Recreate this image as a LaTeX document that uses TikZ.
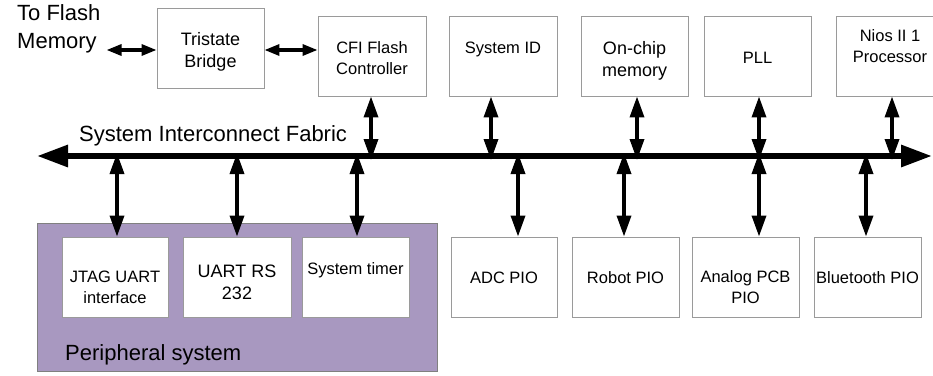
\documentclass[tikz,border=0pt]{standalone}
\usepackage{fontspec}
\setmainfont{Liberation Sans}
\usetikzlibrary{arrows.meta}

\definecolor{boxline}{HTML}{9A9A9A}
\definecolor{perifill}{HTML}{A898C0}
\definecolor{periline}{HTML}{808080}

% a block: [text style], name, x1, y1, x2, y2, text centre y, text
\newcommand\mkblock[8][]{%
  \node[blk, minimum width={#5pt-#3pt}, minimum height={#6pt-#4pt}]
    (#2) at ({(#3+#5)/2},{(#4+#6)/2}) {};
  \node[blktext, #1] (#2-t) at ({(#3+#5)/2},#7) {#8};
}

\begin{document}
\begin{tikzpicture}[x=1pt, y=-1pt,
  blk/.style={draw=boxline, line width=0.9pt, fill=white, inner sep=0pt},
  blktext/.style={inner sep=0pt, align=center,
    font=\fontsize{16.5}{21}\selectfont},
  largetext/.style={font=\fontsize{18}{22}\selectfont},
  bigtext/.style={inner sep=0pt, align=left,
    font=\fontsize{22}{28}\selectfont},
  peri/.style={draw=periline, line width=0.9pt, fill=perifill, inner sep=0pt},
  varrow/.style={line width=3.4pt,
    {Triangle[length=21pt,width=14pt]}-{Triangle[length=21pt,width=14pt]}},
  harrow/.style={line width=3.2pt,
    {Triangle[length=15pt,width=11pt]}-{Triangle[length=15pt,width=11pt]}},
  busarrow/.style={line width=6pt,
    {Triangle[length=31pt,width=21pt]}-{Triangle[length=31pt,width=21pt]}}]

\useasboundingbox (0,0) rectangle (933,375);
\clip (0,0) rectangle (933,375);

% peripheral subsystem frame
\node[peri, minimum width=400pt, minimum height=148pt] (per) at (237,297) {};
\node[bigtext, anchor=west] (per-t) at (65,355) {Peripheral system};

% upper row
\mkblock[largetext]{tri}{157}{8}{264}{88}{52}{Tristate\\Bridge}
\mkblock{cfi}{318}{16}{426}{96}{58}{CFI Flash\\Controller}
\mkblock{sysid}{449}{16}{557}{96}{49}{System ID}
\mkblock[largetext]{ocm}{581}{16}{688}{96}{61}{On-chip\\memory}
\mkblock{pll}{704}{16}{811}{96}{58}{PLL}
\mkblock{nios}{836}{16}{944}{96}{46}{Nios II 1\\Processor}

% lower row
\mkblock{jtag}{62}{237}{168}{317}{287}{JTAG UART\\interface}
\mkblock[largetext]{uart}{183}{237}{291}{317}{282}{UART RS\\232}
\mkblock{timer}{302}{237}{409}{317}{270}{System timer}
\mkblock{adc}{451}{237}{557}{317}{278}{ADC PIO}
\mkblock{robot}{572}{237}{679}{317}{278}{Robot PIO}
\mkblock{analog}{692}{237}{799}{317}{287}{Analog PCB\\PIO}
\mkblock{bt}{814}{237}{921}{317}{278}{Bluetooth PIO}

% external flash label
\node[bigtext, anchor=west] (flash) at (17,29) {To Flash\\Memory};

% system interconnect fabric
\coordinate (busL) at (37,156);
\coordinate (busR) at (932,156);
\coordinate (busA) at (0,160);
\coordinate (busB) at (0,153);
\draw[busarrow] (busL) -- (busR);
\node[bigtext, anchor=west] (fabric) at (79,136) {System Interconnect Fabric};

% flash path
\draw[harrow] ([xshift=6pt,yshift=-2pt]flash.east |- tri.west) -- ([yshift=-2pt]tri.west);
\draw[harrow] ([yshift=-2pt]tri.east) -- ([yshift=-2pt]tri.east -| cfi.west);

% masters and slaves above the fabric
\draw[varrow] ([xshift=-1pt]cfi.south) -- ([xshift=-1pt]cfi.south |- busA);
\draw[varrow] ([xshift=-12pt]sysid.south) -- ([xshift=-12pt]sysid.south |- busA);
\draw[varrow] ([xshift=2.5pt]ocm.south) -- ([xshift=2.5pt]ocm.south |- busA);
\draw[varrow] ([xshift=1.5pt]pll.south) -- ([xshift=1.5pt]pll.south |- busA);
\draw[varrow] ([xshift=2pt]nios.south) -- ([xshift=2pt]nios.south |- busA);

% slaves below the fabric
\draw[varrow] ([xshift=2pt]jtag.north |- busB) -- ([xshift=2pt]jtag.north);
\draw[varrow] (uart.north |- busB) -- (uart.north);
\draw[varrow] ([xshift=1.5pt]timer.north |- busB) -- ([xshift=1.5pt]timer.north);
\draw[varrow] ([xshift=14pt]adc.north |- busB) -- ([xshift=14pt]adc.north);
\draw[varrow] ([xshift=-1.5pt]robot.north |- busB) -- ([xshift=-1.5pt]robot.north);
\draw[varrow] ([xshift=13.5pt]analog.north |- busB) -- ([xshift=13.5pt]analog.north);
\draw[varrow] ([xshift=-1.5pt]bt.north |- busB) -- ([xshift=-1.5pt]bt.north);
\end{tikzpicture}
\end{document}
